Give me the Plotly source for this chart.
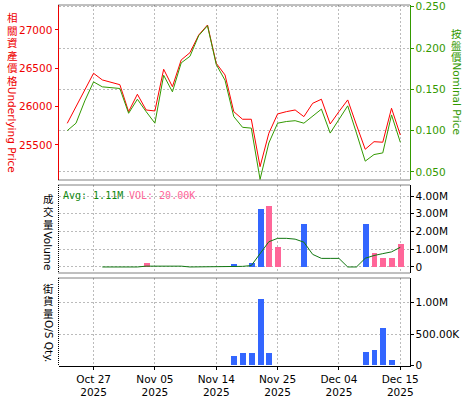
import plotly.graph_objects as go

# ---------------- data ----------------
dates = [
    "2025-10-22", "2025-10-23", "2025-10-24", "2025-10-27", "2025-10-28", "2025-10-29",
    "2025-10-30", "2025-10-31", "2025-11-03", "2025-11-04", "2025-11-05", "2025-11-06",
    "2025-11-07", "2025-11-10", "2025-11-11", "2025-11-12", "2025-11-13", "2025-11-14",
    "2025-11-17", "2025-11-18", "2025-11-19", "2025-11-20", "2025-11-21", "2025-11-24",
    "2025-11-25", "2025-11-26", "2025-11-27", "2025-11-28", "2025-12-01", "2025-12-02",
    "2025-12-03", "2025-12-04", "2025-12-05", "2025-12-08", "2025-12-09", "2025-12-10",
    "2025-12-11", "2025-12-12", "2025-12-15",
]
tick_dates = ["2025-10-27", "2025-11-05", "2025-11-14", "2025-11-25", "2025-12-04", "2025-12-15"]
tick_labels = ["Oct 27<br>2025", "Nov 05<br>2025", "Nov 14<br>2025",
               "Nov 25<br>2025", "Dec 04<br>2025", "Dec 15<br>2025"]

underlying = [25782, 26000, 26221, 26435, 26348, 26312, 26286, 25934, 26161, 25956,
              25943, 26487, 26260, 26609, 26704, 26935, 27065, 26565, 26413, 25934,
              25835, 25835, 25216, 25652, 25904, 25934, 25956, 25869, 26043, 26096,
              25773, 25934, 26087, 25760, 25443, 25542, 25535, 25978, 25630]

nominal = [0.100, 0.109, 0.136, 0.159, 0.153, 0.152, 0.151, 0.121, 0.138, 0.123,
           0.109, 0.167, 0.147, 0.182, 0.190, 0.215, 0.227, 0.180, 0.161, 0.117,
           0.104, 0.103, 0.041, 0.085, 0.109, 0.111, 0.112, 0.109, 0.117, 0.126,
           0.097, 0.114, 0.130, 0.097, 0.063, 0.071, 0.073, 0.119, 0.086]

volume = [0, 0, 0, 0, 0, 0, 0, 0, 0, 230000,
          0, 0, 0, 0, 0, 0, 0, 0, 0, 170000,
          0, 230000, 3270000, 3440000, 1130000, 0, 0, 2420000, 0, 0,
          0, 0, 0, 0, 2450000, 780000, 530000, 490000, 1300000]

volume_avg = [None, None, None, None, 0, 0, 0, 0, 0, 46000,
              46000, 46000, 46000, 46000, 0, 0, 0, 0, 0, 34000,
              34000, 80000, 734000, 1422000, 1614000, 1614000, 1568000, 1398000, 710000, 484000,
              484000, 484000, 0, 0, 490000, 646000, 752000, 850000, 1110000]

os_qty = [0, 0, 0, 0, 0, 0, 0, 0, 0, 0,
          0, 0, 0, 0, 0, 0, 0, 0, 0, 150000,
          200000, 200000, 1060000, 200000, 0, 0, 0, 0, 0, 0,
          0, 0, 0, 0, 210000, 245000, 600000, 85000, 0]

left_ticks = [25500, 26000, 26500, 27000]
left_tick_labels = ["25500", "26000", "26500", "27000"]
right_ticks = [0.05, 0.10, 0.15, 0.20, 0.25]
vol_ticks = [0, 1000000, 2000000, 3000000, 4000000]
vol_tick_labels = ["0", "1.00M", "2.00M", "3.00M", "4.00M"]
os_ticks = [0, 500000, 1000000]
os_tick_labels = ["0", "500.00K", "1.00M"]

# ---------------- styles ----------------
BLUE = "#3366ff"
PINK = "#ff6699"
RED = "#ee0000"
GREEN = "#339900"
DKGREEN = "#118811"
GRID = "#bbbbbb"
vol_colors = [PINK] * len(dates)
for k in (19, 21, 22, 27, 34):
    vol_colors[k] = BLUE

W, H = 475, 400
FONT = "DejaVu Sans"
CJK = "Noto Sans CJK TC"
FS = 10.5


def px(x):
    return x / W


def py(y):
    return 1 - y / H


X0, X1 = 58.5, 409.5
XR = [-1.0, 39.05]

fig = go.Figure()
fig.add_trace(go.Scatter(x=dates, y=underlying, mode="lines", xaxis="x", yaxis="y",
                         line=dict(color="#ff0000", width=1)))
fig.add_trace(go.Scatter(x=dates, y=nominal, mode="lines", xaxis="x", yaxis="y2",
                         line=dict(color=GREEN, width=1)))
fig.add_trace(go.Bar(x=dates, y=volume, xaxis="x2", yaxis="y3", width=0.68,
                     marker=dict(color=vol_colors, line=dict(width=0))))
fig.add_trace(go.Scatter(x=dates, y=volume_avg, mode="lines", xaxis="x2", yaxis="y3",
                         line=dict(color="#117711", width=1)))
fig.add_trace(go.Bar(x=dates, y=os_qty, xaxis="x3", yaxis="y4", width=0.68,
                     marker=dict(color=BLUE, line=dict(width=0))))

xcommon = dict(domain=[px(X0), px(X1)], type="category", range=XR, tickvals=tick_dates,
               showgrid=True, gridcolor=GRID, griddash="2px,2px", gridwidth=1,
               zeroline=False, automargin=False, fixedrange=True)

fig.update_layout(
    template="none",
    width=W, height=H,
    margin=dict(l=0, r=0, t=0, b=0),
    paper_bgcolor="white", plot_bgcolor="white",
    showlegend=False,
    bargap=0,
    font=dict(family=FONT, size=FS, color="black"),
    xaxis=dict(xcommon, anchor="y", showticklabels=False, ticks="", showline=False),
    xaxis2=dict(xcommon, anchor="y3", showticklabels=False, ticks="", showline=False),
    xaxis3=dict(xcommon, anchor="y4", ticktext=tick_labels, ticks="outside", ticklen=3,
                tickcolor="black", showline=True, linecolor="black", linewidth=1,
                tickfont=dict(family=FONT, size=FS, color="black")),
    yaxis=dict(domain=[py(180), py(5)], anchor="x", side="left", range=[25042, 27326],
               tickvals=left_ticks, ticktext=left_tick_labels,
               tickfont=dict(family=FONT, size=FS, color=RED),
               ticks="outside", ticklen=3, tickcolor=RED, showline=True, linecolor=RED,
               linewidth=1, showgrid=False, zeroline=False, automargin=False),
    yaxis2=dict(overlaying="y", anchor="x", side="right", range=[0.0402, 0.2521],
                tickvals=right_ticks, tickformat=".3f",
                tickfont=dict(family=FONT, size=FS, color=GREEN),
                ticks="outside", ticklen=3, tickcolor=GREEN, showline=True, linecolor=GREEN,
                linewidth=1, showgrid=True, gridcolor=GRID, griddash="2px,2px",
                zeroline=False, automargin=False),
    yaxis3=dict(domain=[py(273), py(185)], anchor="x2", side="right",
                range=[-340000, 4620000], tickvals=vol_ticks, ticktext=vol_tick_labels,
                tickfont=dict(family=FONT, size=FS, color="black"),
                ticks="outside", ticklen=3, tickcolor="black", showline=True,
                linecolor="black", linewidth=1, showgrid=True, gridcolor=GRID,
                griddash="2px,2px", zeroline=False, automargin=False),
    yaxis4=dict(domain=[py(366), py(278)], anchor="x3", side="right",
                range=[-11000, 1395000], tickvals=os_ticks, ticktext=os_tick_labels,
                tickfont=dict(family=FONT, size=FS, color="black"),
                ticks="outside", ticklen=3, tickcolor="black", showline=True,
                linecolor="black", linewidth=1, showgrid=True, gridcolor=GRID,
                griddash="2px,2px", zeroline=False, automargin=False),
)

# dotted panel borders
dotted = dict(color="black", width=1, dash="1px,1px")
borders = [
    (X0, 5, X1, 5), (X0, 180, X1, 180),
    (X0, 185, X1, 185), (X0, 273, X1, 273), (X0, 185, X0, 273),
    (X0, 278, X1, 278), (X0, 278, X0, 366),
]
for (a, b, c, d) in borders:
    fig.add_shape(type="line", xref="paper", yref="paper",
                  x0=px(a), y0=py(b), x1=px(c), y1=py(d), line=dotted, layer="above")

annotations = []


def add_text(text, x, y, color, family=FONT, size=FS, angle=0, xanchor="center"):
    annotations.append(dict(text=text, x=px(x), y=py(y), xref="paper", yref="paper",
                            xanchor=xanchor, yanchor="middle", showarrow=False,
                            textangle=angle, font=dict(family=family, size=size, color=color),
                            borderpad=0))


def vertical_title(cjk_text, latin, x, y_first, step, latin_center, color):
    # CJK characters stay upright, Latin part is turned to read top-to-bottom
    for k, ch in enumerate(cjk_text):
        add_text(ch, x, y_first + step * k, color, family=CJK, size=10.5)
    add_text(latin, x, latin_center, color, angle=90)


vertical_title("相關資產價格", "Underlying Price", 12.3, 17.5, 12.6, 130, RED)
vertical_title("按盤價", "Nominal Price", 456.5, 33, 12, 98, GREEN)
vertical_title("成交量", "Volume", 48.3, 198.5, 13, 250.8, "black")
vertical_title("街貨量", "O/S Qty.", 48.3, 288.5, 12.3, 341.3, "black")

add_text("Avg: 1.11M", 61.5, 195, DKGREEN, family="DejaVu Sans Mono", size=10, xanchor="left")
add_text("VOL: 20.00K", 128, 195, PINK, family="DejaVu Sans Mono", size=10, xanchor="left")

fig.update_layout(annotations=annotations)

fig.write_html("out.html", config={"displayModeBar": False},
               post_script="document.body.style.margin='0';document.body.style.overflow='hidden';")
